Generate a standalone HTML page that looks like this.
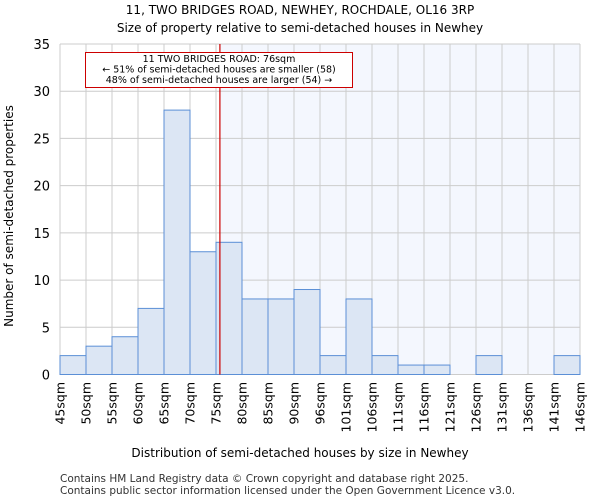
<!DOCTYPE html>
<html><head><meta charset="utf-8"><style>
body{margin:0;background:#fff;font-family:"DejaVu Sans","Liberation Sans",sans-serif;}
</style></head><body>
<svg width="600" height="500" xmlns="http://www.w3.org/2000/svg" font-family="DejaVu Sans, Liberation Sans, sans-serif">
<text x="300" y="14" text-anchor="middle" font-size="12">11, TWO BRIDGES ROAD, NEWHEY, ROCHDALE, OL16 3RP</text>
<text x="300" y="32" text-anchor="middle" font-size="12">Size of property relative to semi-detached houses in Newhey</text>
<g id="plot"></g>
<text x="300" y="457" text-anchor="middle" font-size="12">Distribution of semi-detached houses by size in Newhey</text>
<text x="13" y="216" text-anchor="middle" font-size="12" transform="rotate(-90 13 216)">Number of semi-detached properties</text>
<text x="60" y="482" font-size="10.5" fill="#333">Contains HM Land Registry data © Crown copyright and database right 2025.</text>
<text x="60" y="494" font-size="10.5" fill="#333">Contains public sector information licensed under the Open Government Licence v3.0.</text>
</svg>
<script>
const categories=["45sqm","50sqm","55sqm","60sqm","65sqm","70sqm","75sqm","80sqm","85sqm","90sqm","96sqm","101sqm","106sqm","111sqm","116sqm","121sqm","126sqm","131sqm","136sqm","141sqm","146sqm"];
const counts=[2,3,4,7,28,13,14,8,8,9,2,8,2,1,1,0,2,0,0,2];
const yTicks=[0,5,10,15,20,25,30,35];
const propertyBinIndex=6;
const propertyBinFraction=0.15;
const NS="http://www.w3.org/2000/svg";
const L=60,R=580,T=44,B=374.5;
const bw=(R-L)/counts.length;
const x=i=>L+i*bw;
const y=v=>B-(v/35)*(B-T);
const g=document.getElementById('plot');
function mk(t,a){const e=document.createElementNS(NS,t);for(const k in a)e.setAttribute(k,a[k]);g.appendChild(e);return e;}
const redX=x(propertyBinIndex+propertyBinFraction);
let e=mk('rect',{x:redX,y:T,width:R-redX,height:B-T,fill:'#f4f7fe'});


for(let i=0;i<=counts.length;i++){e=mk('line',{x1:x(i),x2:x(i),y1:T,y2:B,stroke:'#cccccc','stroke-width':1});

}
yTicks.forEach(v=>{e=mk('line',{x1:L,x2:R,y1:y(v),y2:y(v),stroke:'#cccccc','stroke-width':1});


const t=mk('text',{x:L-10,y:y(v)+5,'text-anchor':'end','font-size':13});t.textContent=v;

});
counts.forEach((c,i)=>{if(c<=0)return;const r=mk('rect',{x:x(i),y:y(c),width:bw,height:B-y(c),fill:'#dce6f4',stroke:'#5b8fd6','stroke-width':1});

});
categories.forEach((c,i)=>{const t=mk('text',{x:0,y:0,'text-anchor':'end','font-size':12.5,transform:`translate(${x(i)+4.5},382) rotate(-90)`});t.textContent=c;

});
e=mk('line',{x1:redX,x2:redX,y1:T,y2:B,stroke:'#cc0000','stroke-width':1.2});


e=mk('rect',{x:85.5,y:52.5,width:267,height:35,fill:'#fff',stroke:'#cc0000','stroke-width':1});


["11 TWO BRIDGES ROAD: 76sqm","← 51% of semi-detached houses are smaller (58)","48% of semi-detached houses are larger (54) →"].forEach((s,k)=>{const t=mk('text',{x:219,y:62+k*10.5,'text-anchor':'middle','font-size':9.5});t.textContent=s;

});
</script>
</body></html>
